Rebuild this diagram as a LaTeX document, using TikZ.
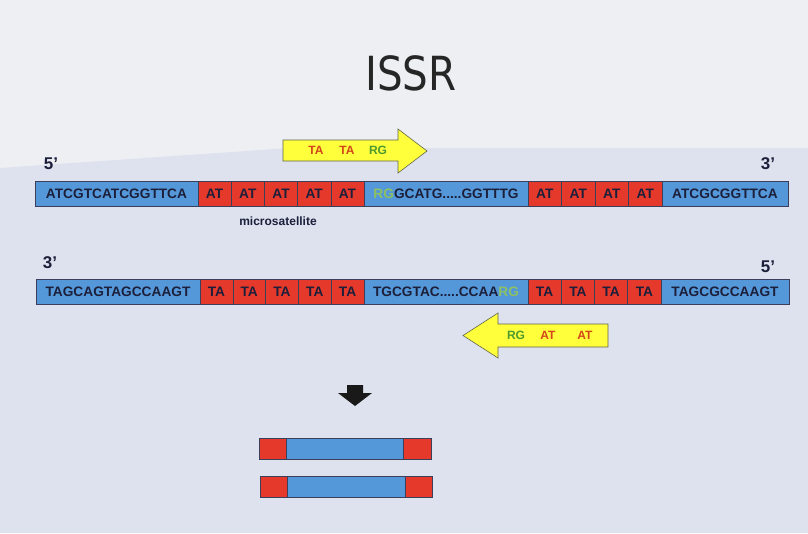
\documentclass[tikz,border=0pt]{standalone}
\usepackage{fontspec}
\setmainfont{Liberation Sans}
\newfontfamily\titlefont{DejaVu Sans}
\definecolor{bgtop}{HTML}{EDEFF3}
\definecolor{bgbot}{HTML}{DEE2EF}
\definecolor{dnablue}{HTML}{5598DA}
\definecolor{dnared}{HTML}{E5392C}
\definecolor{edge}{HTML}{3A3F5C}
\definecolor{ink}{HTML}{1C1F3A}
\definecolor{pale}{HTML}{8CC063}
\definecolor{primeyel}{HTML}{FFFF3C}
\definecolor{tacol}{HTML}{D2461A}
\definecolor{rgcol}{HTML}{4E9A2E}
\tikzset{
  seg/.style={draw=edge, line width=0.6pt, rectangle, inner sep=0pt, minimum height=25pt,
    font=\bfseries\fontsize{13.7}{13.7}\selectfont, text=ink},
  bseg/.style={seg, fill=dnablue},
  rseg/.style={seg, fill=dnared},
  prime/.style={font=\bfseries\fontsize{17}{17}\selectfont, text=ink},
  primer/.style={draw=edge!80!yellow, line width=0.6pt, fill=primeyel},
  ptext/.style={font=\bfseries\fontsize{12}{12}\selectfont},
  bar/.style={draw=edge, line width=0.6pt, rectangle, inner sep=0pt, minimum height=21pt}
}
\begin{document}
\begin{tikzpicture}[x=1pt,y=-1pt]
\useasboundingbox (0,0) rectangle (808,533);
\fill[bgtop] (0,0) rectangle (808,533);
\fill[bgbot] (0,168) -- (290,148) -- (808,148) -- (808,533) -- (0,533) -- cycle;

% title
\node[font=\titlefont\fontsize{47}{47}\selectfont, text=black!85, xscale=0.86] (title) at (411,73) {ISSR};

% labels
\node[prime] (p5a) at (51,164) {5’};
\node[prime] (p3a) at (768,164) {3’};
\node[prime] (p3b) at (50,263) {3’};
\node[prime] (p5b) at (768,267) {5’};

% top strand
\node[bseg, minimum width=163pt] (t1) at (116.5,193.5) {ATCGTCATCGGTTCA};
\node[rseg, minimum width=33.2pt] (tr1) at (214.6,193.5) {AT};
\node[rseg, minimum width=33.2pt] (tr2) at (247.8,193.5) {AT};
\node[rseg, minimum width=33.2pt] (tr3) at (281.0,193.5) {AT};
\node[rseg, minimum width=33.2pt] (tr4) at (314.2,193.5) {AT};
\node[rseg, minimum width=33.2pt] (tr5) at (347.4,193.5) {AT};
\node[bseg, minimum width=164pt] (t2) at (446,193.5) {\textcolor{pale}{RG}GCATG.....GGTTTG};
\node[rseg, minimum width=33.5pt] (tr6) at (544.75,193.5) {AT};
\node[rseg, minimum width=33.5pt] (tr7) at (578.25,193.5) {AT};
\node[rseg, minimum width=33.5pt] (tr8) at (611.75,193.5) {AT};
\node[rseg, minimum width=33.5pt] (tr9) at (645.25,193.5) {AT};
\node[bseg, minimum width=126pt] (t3) at (725,193.5) {ATCGCGGTTCA};

\node[font=\bfseries\fontsize{12}{12}\selectfont, text=ink] (micro) at (278,221) {microsatellite};

% bottom strand
\node[bseg, minimum width=164pt] (b1) at (118,291.5) {TAGCAGTAGCCAAGT};
\node[rseg, minimum width=32.8pt] (br1) at (216.4,291.5) {TA};
\node[rseg, minimum width=32.8pt] (br2) at (249.2,291.5) {TA};
\node[rseg, minimum width=32.8pt] (br3) at (282.0,291.5) {TA};
\node[rseg, minimum width=32.8pt] (br4) at (314.8,291.5) {TA};
\node[rseg, minimum width=32.8pt] (br5) at (347.6,291.5) {TA};
\node[bseg, minimum width=164pt] (b2) at (446,291.5) {TGCGTAC.....CCAA\textcolor{pale}{RG}};
\node[rseg, minimum width=33.25pt] (br6) at (544.6,291.5) {TA};
\node[rseg, minimum width=33.25pt] (br7) at (577.9,291.5) {TA};
\node[rseg, minimum width=33.25pt] (br8) at (611.1,291.5) {TA};
\node[rseg, minimum width=33.25pt] (br9) at (644.4,291.5) {TA};
\node[bseg, minimum width=128pt] (b3) at (725,291.5) {TAGCGCCAAGT};

% forward primer
\draw[primer] (283,140) -- (398,140) -- (398,129) -- (427,151) -- (398,173) -- (398,161) -- (283,161) -- cycle;
\node[ptext, text=tacol] (fp1) at (316,150.5) {TA};
\node[ptext, text=tacol] (fp2) at (347,150.5) {TA};
\node[ptext, text=rgcol] (fp3) at (378,150.5) {RG};

% reverse primer
\draw[primer] (608,324) -- (498,324) -- (498,313) -- (463,335.5) -- (498,358) -- (498,347) -- (608,347) -- cycle;
\node[ptext, text=rgcol] (rp1) at (516,335.5) {RG};
\node[ptext, text=tacol] (rp2) at (548,335.5) {AT};
\node[ptext, text=tacol] (rp3) at (585,335.5) {AT};

% down arrow
\fill[black!90] (347,385) -- (363,385) -- (363,393) -- (372,393) -- (355,406) -- (338,393) -- (347,393) -- cycle;

% products
\node[bar, fill=dnared, minimum width=27pt] (pa1) at (272.5,448.5) {};
\node[bar, fill=dnablue, minimum width=117pt] (pa2) at (344.5,448.5) {};
\node[bar, fill=dnared, minimum width=28pt] (pa3) at (417,448.5) {};
\node[bar, fill=dnared, minimum width=27pt] (pb1) at (273.5,487) {};
\node[bar, fill=dnablue, minimum width=118pt] (pb2) at (346,487) {};
\node[bar, fill=dnared, minimum width=27pt] (pb3) at (418.5,487) {};
\end{tikzpicture}
\end{document}
